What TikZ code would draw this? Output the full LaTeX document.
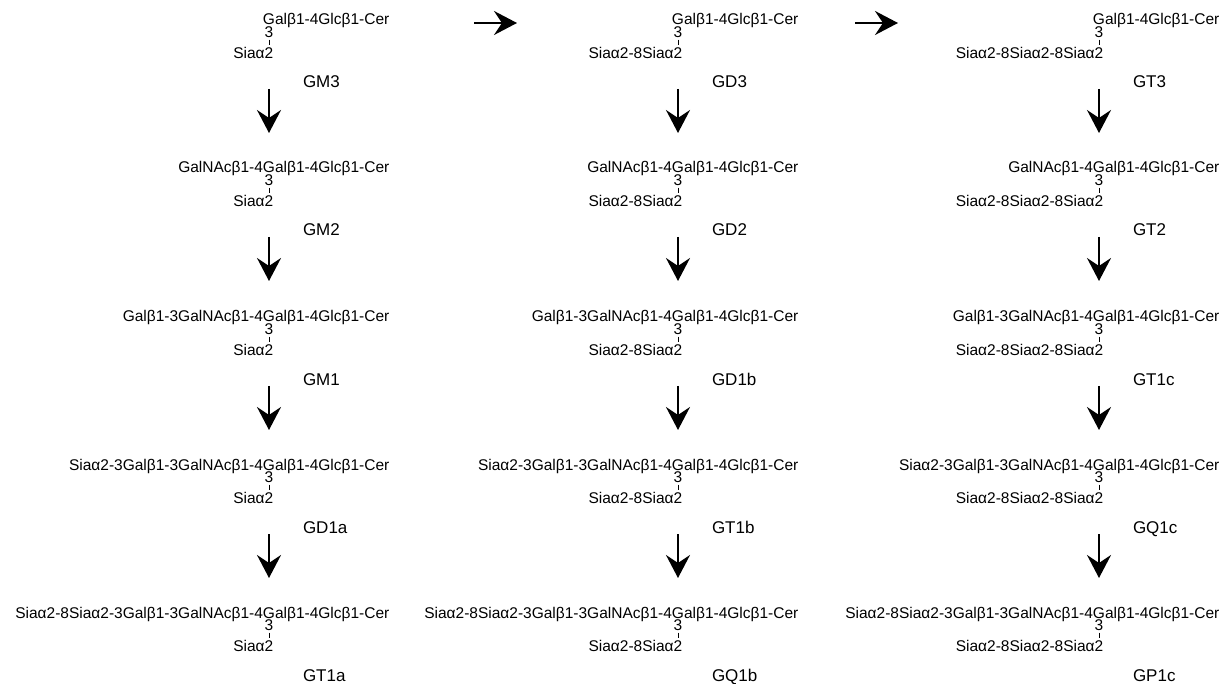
\documentclass[tikz,border=0pt]{standalone}
\usepackage{fontspec}
\setmainfont{Liberation Sans}
\usetikzlibrary{arrows.meta,calc}
\tikzset{
 txt/.style={inner sep=0pt, outer sep=0pt, font=\fontsize{15.5}{18}\selectfont},
 lbl/.style={inner sep=0pt, outer sep=0pt, font=\fontsize{17}{20}\selectfont},
 linktick/.style={line width=0.9pt},
 arr/.style={line width=2.2pt, -{Stealth[length=23pt,width=24pt,inset=8pt]}},
}
% #1 name, #2 x of branch, #3 baseline y, #4 left part, #5 sialic part, #6 label
\newcommand\gstruct[6]{%
 \node[txt, anchor=base] (#1g) at (#2,#3) {G};
 \node[txt, anchor=base west] (#1r) at (#1g.base east) {alβ1-4Glcβ1-Cer};
 \node[txt, anchor=base east] (#1l) at (#1g.base west) {#4};
 \node[txt, anchor=base] (#1t) at (#2,#3+12.5) {3};
 \node[txt, anchor=base] (#1s) at (#2,#3+33.5) {2};
 \node[txt, anchor=base east] (#1sl) at (#1s.base west) {#5};
 \draw[linktick] ($(#1t.south)+(0,2)$) -- ($(#1s.north)+(0,-3)$);
 \node[lbl, anchor=base west] (#1n) at (#2+34,#3+63) {#6};
}
\newcommand\steparrow[3]{%
 \coordinate (#1a) at (#2,#3+64);
 \coordinate (#1b) at (#2,#3+108);
 \draw[arr] (#1a) -- (#1b);
}
\begin{document}
\begin{tikzpicture}[x=1pt,y=-1pt]
\useasboundingbox (0,0) rectangle (1226,684);
% column 1
\gstruct{GMiii}{269}{25}{}{Siaα}{GM3}
\gstruct{GMii}{269}{173}{GalNAcβ1-4}{Siaα}{GM2}
\gstruct{GMi}{269}{322}{Galβ1-3GalNAcβ1-4}{Siaα}{GM1}
\gstruct{GDia}{269}{470}{Siaα2-3Galβ1-3GalNAcβ1-4}{Siaα}{GD1a}
\gstruct{GTia}{269}{618}{Siaα2-8Siaα2-3Galβ1-3GalNAcβ1-4}{Siaα}{GT1a}
% column 2
\gstruct{GDiii}{678}{25}{}{Siaα2-8Siaα}{GD3}
\gstruct{GDii}{678}{173}{GalNAcβ1-4}{Siaα2-8Siaα}{GD2}
\gstruct{GDib}{678}{322}{Galβ1-3GalNAcβ1-4}{Siaα2-8Siaα}{GD1b}
\gstruct{GTib}{678}{470}{Siaα2-3Galβ1-3GalNAcβ1-4}{Siaα2-8Siaα}{GT1b}
\gstruct{GQib}{678}{618}{Siaα2-8Siaα2-3Galβ1-3GalNAcβ1-4}{Siaα2-8Siaα}{GQ1b}
% column 3
\gstruct{GTiii}{1099}{25}{}{Siaα2-8Siaα2-8Siaα}{GT3}
\gstruct{GTii}{1099}{173}{GalNAcβ1-4}{Siaα2-8Siaα2-8Siaα}{GT2}
\gstruct{GTic}{1099}{322}{Galβ1-3GalNAcβ1-4}{Siaα2-8Siaα2-8Siaα}{GT1c}
\gstruct{GQic}{1099}{470}{Siaα2-3Galβ1-3GalNAcβ1-4}{Siaα2-8Siaα2-8Siaα}{GQ1c}
\gstruct{GPic}{1099}{618}{Siaα2-8Siaα2-3Galβ1-3GalNAcβ1-4}{Siaα2-8Siaα2-8Siaα}{GP1c}
% vertical arrows
\foreach \c/\x in {A/269,B/678,C/1099}{
 \foreach \r/\y in {1/25,2/173,3/322,4/470}{
  \steparrow{v\c\r}{\x}{\y}
 }
}
% horizontal arrows
\coordinate (h1a) at (474,23);
\coordinate (h1b) at (517,23);
\coordinate (h2a) at (855,23);
\coordinate (h2b) at (898,23);
\draw[arr] (h1a) -- (h1b);
\draw[arr] (h2a) -- (h2b);
\end{tikzpicture}
\end{document}
